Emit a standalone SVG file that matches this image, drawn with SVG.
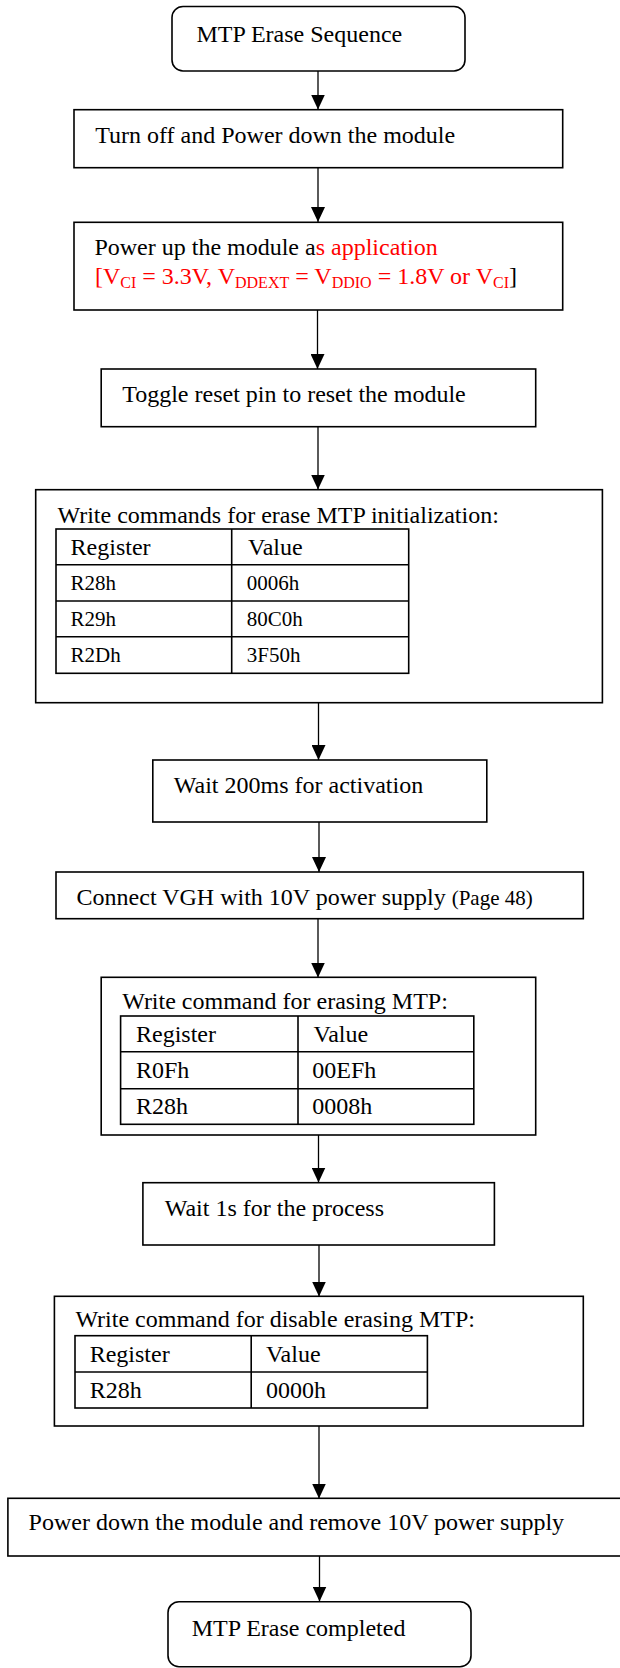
<svg xmlns="http://www.w3.org/2000/svg" width="620" height="1668" viewBox="0 0 620 1668">
  <style>
    .box { fill: #ffffff; stroke: #000000; stroke-width: 1.6; }
    .grid { fill: none; stroke: #000000; stroke-width: 1.6; }
    .t { font-family: "Liberation Serif", "Times New Roman", serif; font-size: 24px; fill: #000000; }
    .small { font-size: 21px; }
    .red { fill: #ff0000; }
    .sub { font-size: 16px; }
    .edge { stroke: #000000; stroke-width: 1.3; fill: none; }
  </style>
  <defs>
    <marker id="arrow" viewBox="0 0 15 14" refX="15" refY="7" markerWidth="15" markerHeight="14" markerUnits="userSpaceOnUse" orient="auto">
      <path d="M0,0 L15,7 L0,14 Z" fill="#000000"/>
    </marker>
  </defs>
  <rect width="620" height="1668" fill="#ffffff"/>

  <!-- flow connectors -->
  <g id="connectors">
    <line class="edge" x1="318" y1="71" x2="318" y2="109.5" marker-end="url(#arrow)"/>
    <line class="edge" x1="318" y1="168" x2="318" y2="222" marker-end="url(#arrow)"/>
    <line class="edge" x1="317.5" y1="310" x2="317.5" y2="369" marker-end="url(#arrow)"/>
    <line class="edge" x1="318" y1="427" x2="318" y2="489.5" marker-end="url(#arrow)"/>
    <line class="edge" x1="318.5" y1="703" x2="318.5" y2="760" marker-end="url(#arrow)"/>
    <line class="edge" x1="319" y1="822" x2="319" y2="872" marker-end="url(#arrow)"/>
    <line class="edge" x1="318" y1="919" x2="318" y2="977.5" marker-end="url(#arrow)"/>
    <line class="edge" x1="318.5" y1="1135" x2="318.5" y2="1182.5" marker-end="url(#arrow)"/>
    <line class="edge" x1="319" y1="1245" x2="319" y2="1296.5" marker-end="url(#arrow)"/>
    <line class="edge" x1="319" y1="1426" x2="319" y2="1498.5" marker-end="url(#arrow)"/>
    <line class="edge" x1="319.5" y1="1556" x2="319.5" y2="1601.5" marker-end="url(#arrow)"/>
  </g>

  <!-- start terminal -->
  <g id="start">
    <rect class="box" x="172" y="6.5" width="293" height="64.5" rx="11" ry="11"/>
    <text class="t" x="196.5" y="41.7">MTP Erase Sequence</text>
  </g>

  <g id="power-off">
    <rect class="box" x="74" y="109.7" width="488.7" height="58"/>
    <text class="t" x="95.2" y="142.7">Turn off and Power down the module</text>
  </g>

  <g id="power-up">
    <rect class="box" x="74" y="222.3" width="488.7" height="87.7"/>
    <text class="t" x="94.4" y="255">Power up the module a<tspan class="red">s application</tspan></text>
    <text class="t red" x="95" y="284">[V<tspan class="sub" dy="3.5">CI</tspan><tspan dy="-3.5"> = 3.3V, V</tspan><tspan class="sub" dy="3.5">DDEXT</tspan><tspan dy="-3.5"> = V</tspan><tspan class="sub" dy="3.5">DDIO</tspan><tspan dy="-3.5"> = 1.8V or V</tspan><tspan class="sub" dy="3.5">CI</tspan><tspan dy="-3.5" fill="#000000">]</tspan></text>
  </g>

  <g id="reset">
    <rect class="box" x="101.2" y="369" width="434.5" height="57.7"/>
    <text class="t" x="122.2" y="401.7">Toggle reset pin to reset the module</text>
  </g>

  <!-- erase initialisation commands -->
  <g id="init-commands">
    <rect class="box" x="35.7" y="489.7" width="566.7" height="213"/>
    <text class="t" x="57.5" y="522.7">Write commands for erase MTP initialization:</text>
    <rect class="grid" x="56" y="529" width="352.7" height="144.3"/>
    <line class="grid" x1="231.7" y1="529" x2="231.7" y2="673.3"/>
    <line class="grid" x1="56" y1="564.7" x2="408.7" y2="564.7"/>
    <line class="grid" x1="56" y1="601" x2="408.7" y2="601"/>
    <line class="grid" x1="56" y1="636.7" x2="408.7" y2="636.7"/>
    <text class="t" x="70.6" y="555">Register</text>
    <text class="t" x="248" y="555">Value</text>
    <text class="t small" x="70.6" y="590">R28h</text>
    <text class="t small" x="246.8" y="590">0006h</text>
    <text class="t small" x="70.6" y="625.7">R29h</text>
    <text class="t small" x="246.8" y="625.7">80C0h</text>
    <text class="t small" x="70.6" y="661.7">R2Dh</text>
    <text class="t small" x="246.8" y="661.7">3F50h</text>
  </g>

  <g id="wait-activation">
    <rect class="box" x="152.8" y="760" width="334" height="62"/>
    <text class="t" x="173.8" y="793.3">Wait 200ms for activation</text>
  </g>

  <g id="connect-vgh">
    <rect class="box" x="56" y="872" width="527.3" height="46.7"/>
    <text class="t" x="76.6" y="905">Connect VGH with 10V power supply <tspan class="small">(Page 48)</tspan></text>
  </g>

  <!-- erase commands -->
  <g id="erase-commands">
    <rect class="box" x="101.2" y="977.3" width="434.5" height="157.7"/>
    <text class="t" x="122.2" y="1009">Write command for erasing MTP:</text>
    <rect class="grid" x="120.6" y="1016" width="353.2" height="108.3"/>
    <line class="grid" x1="298" y1="1016" x2="298" y2="1124.3"/>
    <line class="grid" x1="120.6" y1="1051.7" x2="473.8" y2="1051.7"/>
    <line class="grid" x1="120.6" y1="1088.7" x2="473.8" y2="1088.7"/>
    <text class="t" x="136" y="1041.7">Register</text>
    <text class="t" x="313.5" y="1041.7">Value</text>
    <text class="t" x="136" y="1078.3">R0Fh</text>
    <text class="t" x="312.3" y="1078.3">00EFh</text>
    <text class="t" x="136" y="1114.3">R28h</text>
    <text class="t" x="312.3" y="1114.3">0008h</text>
  </g>

  <g id="wait-process">
    <rect class="box" x="142.9" y="1182.7" width="351.5" height="62.3"/>
    <text class="t" x="164.7" y="1215.7">Wait 1s for the process</text>
  </g>

  <!-- disable erase command -->
  <g id="disable-commands">
    <rect class="box" x="54.4" y="1296.3" width="528.9" height="129.7"/>
    <text class="t" x="75.4" y="1326.7">Write command for disable erasing MTP:</text>
    <rect class="grid" x="75" y="1335.7" width="352.4" height="72.3"/>
    <line class="grid" x1="251.2" y1="1335.7" x2="251.2" y2="1408"/>
    <line class="grid" x1="75" y1="1372" x2="427.4" y2="1372"/>
    <text class="t" x="89.7" y="1361.7">Register</text>
    <text class="t" x="265.9" y="1361.7">Value</text>
    <text class="t" x="89.7" y="1397.7">R28h</text>
    <text class="t" x="265.9" y="1397.7">0000h</text>
  </g>

  <g id="power-down">
    <rect class="box" x="7.9" y="1498.3" width="620" height="57.7"/>
    <text class="t" x="28.6" y="1530">Power down the module and remove 10V power supply</text>
  </g>

  <!-- end terminal -->
  <g id="end">
    <rect class="box" x="168" y="1601.7" width="303" height="65" rx="11" ry="11"/>
    <text class="t" x="191.7" y="1636">MTP Erase completed</text>
  </g>
</svg>
